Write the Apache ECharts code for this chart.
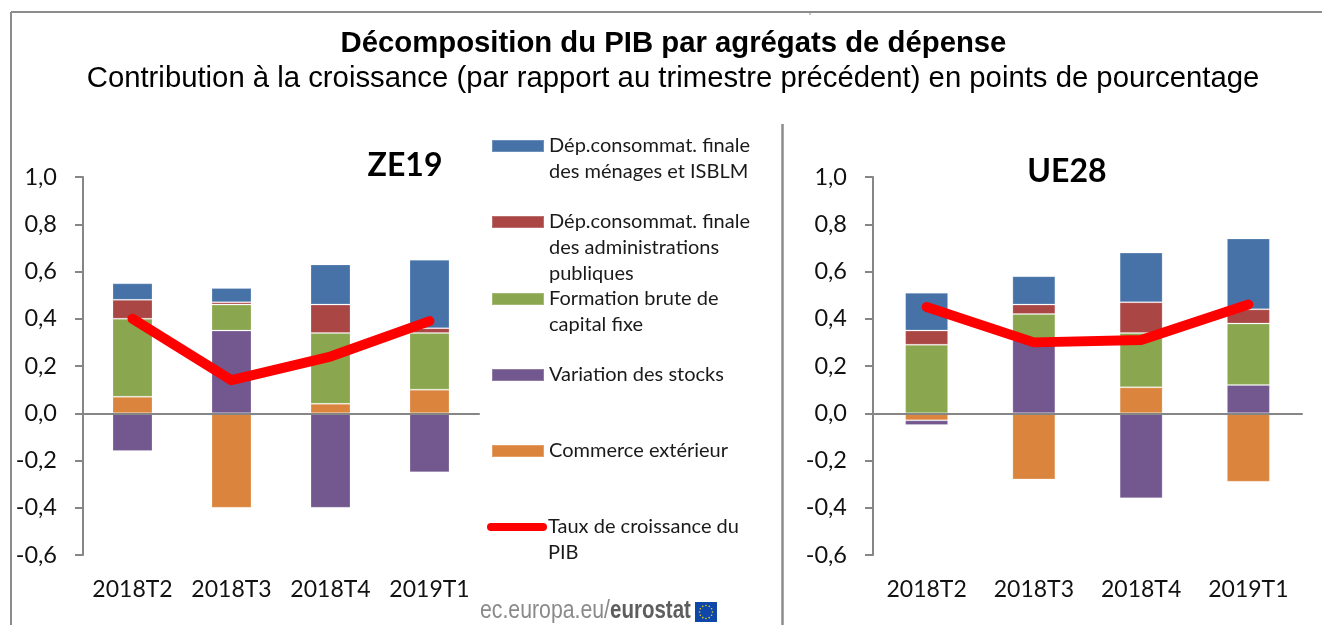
<!DOCTYPE html>
<html><head><meta charset="utf-8">
<style>html,body{margin:0;padding:0;background:#fff}#c{width:1322px;height:625px}</style>
<script src="https://cdn.jsdelivr.net/npm/echarts@6/dist/echarts.min.js"></script>
</head><body><div id="c"></div>
<script>
const categories = ['2018T2','2018T3','2018T4','2019T1'];
const nameMenages = 'Dép.consommat. finale\ndes ménages et ISBLM';
const nameAdmin = 'Dép.consommat. finale\ndes administrations\npubliques';
const nameFBCF = 'Formation brute de\ncapital fixe';
const nameStocks = 'Variation des stocks';
const nameCommerce = 'Commerce extérieur';
const nameTaux = 'Taux de croissance du\nPIB';

const zeCommerce = [0.07,-0.40,0.04,0.10];
const zeStocks   = [-0.16,0.35,-0.40,-0.25];
const zeFBCF     = [0.33,0.11,0.30,0.24];
const zeAdmin    = [0.08,0.01,0.12,0.02];
const zeMenages  = [0.07,0.06,0.17,0.29];
const zeTaux     = [0.40,0.14,0.24,0.39];

const ueCommerce = [-0.03,-0.28,0.11,-0.29];
const ueStocks   = [-0.02,0.31,-0.36,0.12];
const ueFBCF     = [0.29,0.11,0.23,0.26];
const ueAdmin    = [0.06,0.04,0.13,0.06];
const ueMenages  = [0.16,0.12,0.21,0.30];
const ueTaux     = [0.45,0.30,0.31,0.46];

const C = {menages:'#4672a8',admin:'#aa4644',fbcf:'#8aa64e',stocks:'#72588e',commerce:'#db843d',taux:'#ff0000'};
const AXIS = '#868686';
const LAT = 'Lato';

function barS(name,data,color,g,stack){
  return {type:'bar',name,data,stack,xAxisIndex:g*2,yAxisIndex:g,barWidth:g?43:40,
    itemStyle:{color,borderColor:'rgba(255,255,255,0.22)',borderWidth:1},z:2,silent:true};
}
function lineS(data,g){
  return {type:'line',name:nameTaux,data,xAxisIndex:g*2,yAxisIndex:g,showSymbol:false,symbol:'none',z:6,silent:true,
    lineStyle:{color:C.taux,width:10,cap:'round',join:'round'},itemStyle:{color:C.taux}};
}
const xAxes=[];
[0,1].forEach(g=>{
  xAxes.push({type:'category',gridIndex:g,data:categories,position:'bottom',axisLine:{show:false,onZero:false},axisTick:{show:false},
    axisLabel:{fontFamily:LAT,fontSize:23,color:'#111',margin:23,interval:0,hideOverlap:false}});
  xAxes.push({type:'category',gridIndex:g,data:categories,position:'bottom',z:4,axisLine:{onZero:true,lineStyle:{color:AXIS,width:2}},axisTick:{show:false},axisLabel:{show:false}});
});
const yAxes=[0,1].map(g=>({type:'value',gridIndex:g,min:-0.6,max:1.0,interval:0.2,splitLine:{show:false},
  axisLine:{show:true,lineStyle:{color:AXIS,width:2}},axisTick:{show:true,length:8,lineStyle:{color:AXIS,width:2}},
  axisLabel:{fontFamily:LAT,fontSize:23.5,color:'#111',margin:26,formatter:v=>v.toFixed(1).replace('.',',')}}));

// blank lines above the text keep the swatch level with the first line of a wrapped label
function legendItem(name,top,icon){
  const n=name.split('\n').length-1;
  const o={show:true,selectedMode:false,data:[name],left:icon?491:487,top,padding:0,itemWidth:52,itemHeight:12,
    formatter:s=>'\n'.repeat(n)+s,
    textStyle:{fontFamily:LAT,fontSize:20,lineHeight:26,color:'#1a1a1a'}};
  if(icon){o.icon=icon;}
  else{o.lineStyle={width:8,cap:'round'};o.itemStyle={opacity:0};}
  return o;
}
const legends=[
  legendItem(nameMenages,107,'rect'),
  legendItem(nameAdmin,157,'rect'),
  legendItem(nameFBCF,260,'rect'),
  legendItem(nameStocks,362,'rect'),
  legendItem(nameCommerce,438,'rect'),
  legendItem(nameTaux,488,null)
];
const gfx=[
  {type:'line',shape:{x1:11,y1:12,x2:1322,y2:12},style:{stroke:'#8c8c8c',lineWidth:2},silent:true},
  {type:'line',shape:{x1:11,y1:12,x2:11,y2:625},style:{stroke:'#8c8c8c',lineWidth:2},silent:true},
  {type:'line',shape:{x1:810,y1:12,x2:810,y2:15},style:{stroke:'#8c8c8c',lineWidth:1},silent:true},
  {type:'line',shape:{x1:782.5,y1:124,x2:782.5,y2:625},style:{stroke:'#8c8c8c',lineWidth:2.5},silent:true},
  {type:'text',x:480,y:599,scaleX:0.85,style:{text:'ec.europa.eu/',fontFamily:'Liberation Sans',fontSize:25,fill:'#8a8a8a'},silent:true},
  {type:'text',x:610,y:599,scaleX:0.82,style:{text:'eurostat',fontFamily:'Liberation Sans',fontWeight:'bold',fontSize:25,fill:'#5e5e5e'},silent:true},
  {type:'rect',shape:{x:695,y:602,width:22,height:20},style:{fill:'#0e47a8'},silent:true}
];
for(let k=0;k<12;k++){
  const a=k*Math.PI/6;
  gfx.push({type:'circle',shape:{cx:706+6.5*Math.cos(a),cy:612+6.5*Math.sin(a),r:0.8},style:{fill:'#e8d020'},silent:true});
}
const option={
  backgroundColor:'#fff',animation:false,
  title:[
    {text:'Décomposition du PIB par agrégats de dépense',left:673.5,top:29,padding:0,textAlign:'center',textStyle:{fontFamily:'Liberation Sans',fontWeight:'bold',fontSize:29.3,color:'#000'}},
    {text:'Contribution à la croissance (par rapport au trimestre précédent) en points de pourcentage',left:673,top:64,padding:0,textAlign:'center',textStyle:{fontFamily:'Liberation Sans',fontWeight:'normal',fontSize:29.3,color:'#000'}},
    {text:'ZE19',left:405,top:149.5,padding:0,textAlign:'center',textStyle:{fontFamily:LAT,fontWeight:'bold',fontSize:32,color:'#000'}},
    {text:'UE28',left:1067,top:155.5,padding:0,textAlign:'center',textStyle:{fontFamily:LAT,fontWeight:'bold',fontSize:32,color:'#000'}}
  ],
  legend:legends,
  grid:[{left:83,top:177,width:396,height:378},{left:873,top:177,width:429,height:378}],
  xAxis:xAxes,yAxis:yAxes,
  series:[
    barS(nameCommerce,zeCommerce,C.commerce,0,'ze'),
    barS(nameStocks,zeStocks,C.stocks,0,'ze'),
    barS(nameFBCF,zeFBCF,C.fbcf,0,'ze'),
    barS(nameAdmin,zeAdmin,C.admin,0,'ze'),
    barS(nameMenages,zeMenages,C.menages,0,'ze'),
    lineS(zeTaux,0),
    barS(nameCommerce,ueCommerce,C.commerce,1,'ue'),
    barS(nameStocks,ueStocks,C.stocks,1,'ue'),
    barS(nameFBCF,ueFBCF,C.fbcf,1,'ue'),
    barS(nameAdmin,ueAdmin,C.admin,1,'ue'),
    barS(nameMenages,ueMenages,C.menages,1,'ue'),
    lineS(ueTaux,1)
  ],
  graphic:gfx
};
echarts.init(document.getElementById('c'),null,{renderer:'canvas'}).setOption(option);
</script></body></html>
